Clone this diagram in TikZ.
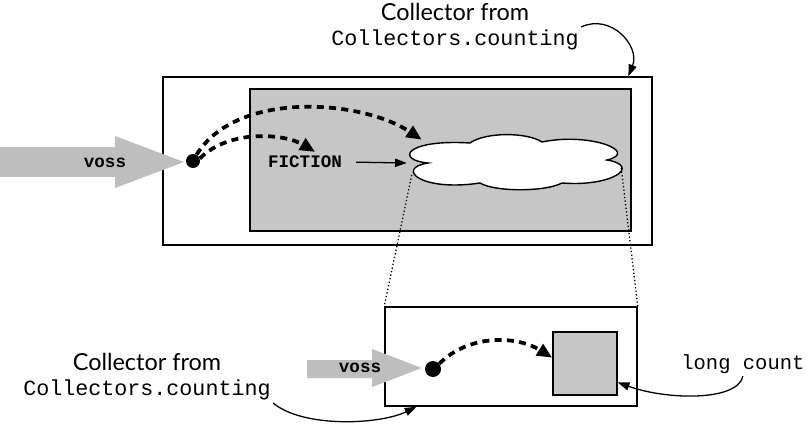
\documentclass[tikz,border=0pt]{standalone}
\usepackage{fontspec}
\setmainfont{Lato}
\setmonofont{Liberation Mono}
\usetikzlibrary{arrows.meta}
\usetikzlibrary{positioning}
\definecolor{panel}{HTML}{C6C6C6}
\definecolor{feed}{HTML}{BEBEBE}
\newcommand{\px}{0.03cm}
\tikzset{
    box/.style={draw, line width=1.3pt, inner sep=0pt},
    blob/.style={circle, fill=black, inner sep=0pt},
    feedtext/.style={font=\ttfamily\bfseries\fontsize{15}{17}\selectfont},
    hop/.style={line width=3.2pt, dash pattern=on 6pt off 4.5pt,
        -{Triangle[length=13pt, width=11pt]}},
    pointer/.style={line width=1.1pt, -{Triangle[length=10pt, width=7pt]}},
    callout/.style={font=\fontsize{20}{21.5}\selectfont, inner sep=2pt, align=center},
}

\begin{document}
\begin{tikzpicture}[x=\px, y=-\px]
        \useasboundingbox (0,0) rectangle (807,426);

        % upper collector
        \node[box, minimum width=489*\px, minimum height=168*\px] (outer) at (407.5,161) {};
        \node[box, fill=panel, minimum width=381*\px, minimum height=142*\px] (inner) at (440.5,160) {};
        \node[minimum width=216*\px, minimum height=46*\px, inner sep=0pt] (pool) at (515,163) {};
        \draw[fill=white, line width=1.2pt] (428,163)
            .. controls (395,160) and (405,139) .. (470,143)
            .. controls (485,132) and (527,132) .. (542,142)
            .. controls (590,132) and (640,152) .. (607,160)
            .. controls (642,166) and (612,187) .. (562,183)
            .. controls (545,192) and (495,192) .. (480,183)
            .. controls (420,192) and (395,168) .. cycle;

        % incoming values
        \fill[feed] (0,147) -- (115,147) -- (115,136) -- (184,162) -- (115,188) -- (115,177) -- (0,177) -- cycle;
        \node[feedtext] (in1) at (105,163) {voss};
        \node[blob, minimum size=14*\px] (src) at (193,161) {};
        \node[feedtext] (fic) at (305,162) {FICTION};

        \draw[hop] (src.60) .. controls +(40,-65) and +(-60,-40) .. ([xshift=15*\px]pool.north west);
        \draw[hop] (src.20) .. controls +(30,-30) and +(-30,-18) .. (fic.45);
        \draw[pointer, shorten <=10*\px] (fic.east) -- (pool.west);

        % zoomed view
        \node[box, minimum width=252*\px, minimum height=99*\px] (detail) at (511,356.5) {};
        \node[box, fill=panel, minimum width=64*\px, minimum height=63*\px] (reg) at (585,363.5) {};
        \draw[dotted, line width=1.1pt] ([shift={(5,12)}]pool.west) -- (detail.north west);
        \draw[dotted, line width=1.1pt] ([shift={(-2,5)}]pool.east) -- (detail.north east);

        \fill[feed] (307,360) -- (372,360) -- (372,349) -- (422,368) -- (372,387) -- (372,378) -- (307,378) -- cycle;
        \node[feedtext] (in2) at (360,368) {voss};
        \node[blob, minimum size=16*\px] (src2) at (433,369) {};
        \draw[hop] (src2.40) .. controls +(30,-30) and +(-35,-22) .. (reg.170);

        % labels
        \node[callout] (toplbl) at (455,27) {Collector from\\\texttt{\fontsize{18.5}{21.5}\selectfont Collectors.counting}};
        \draw[pointer] (toplbl.east) .. controls +(30,-14) and +(12,-30) .. (outer.21.6);

        \node[callout] (botlbl) at (147,377) {Collector from\\\texttt{\fontsize{18.5}{21.5}\selectfont Collectors.counting}};
        \draw[pointer] (botlbl.south east) .. controls +(30,25) and +(-37,18) .. (detail.-152);

        \node[font=\ttfamily\fontsize{17.5}{20}\selectfont, anchor=east, inner sep=2pt] (cnt) at (807,364) {long count};
        \draw[pointer] (cnt.south) .. controls +(-5,25) and +(50,18) .. (reg.-30);
\end{tikzpicture}
\end{document}
